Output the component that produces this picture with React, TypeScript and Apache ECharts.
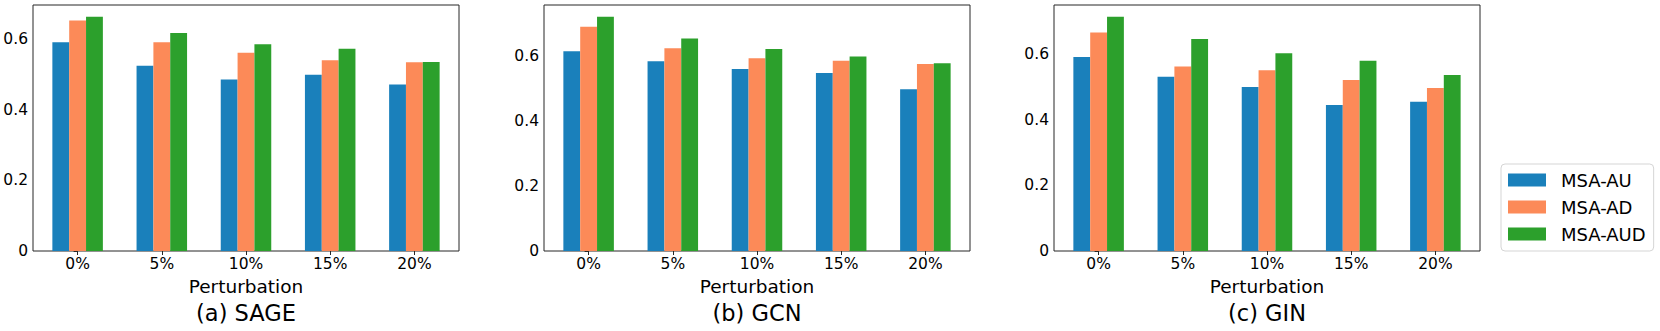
import React, { useEffect, useRef } from "react";
import * as echarts from "echarts";

const categories = ["0%", "5%", "10%", "15%", "20%"];
const seriesNames = ["MSA-AU", "MSA-AD", "MSA-AUD"];
const yTicks = [0, 0.2, 0.4, 0.6];
const panelTitles = ["(a) SAGE", "(b) GCN", "(c) GIN"];

const sageAU = [0.591, 0.524, 0.485, 0.499, 0.471];
const sageAD = [0.652, 0.591, 0.561, 0.54, 0.534];
const sageAUD = [0.663, 0.617, 0.585, 0.572, 0.535];

const gcnAU = [0.614, 0.583, 0.559, 0.547, 0.497];
const gcnAD = [0.689, 0.623, 0.592, 0.585, 0.575];
const gcnAUD = [0.72, 0.653, 0.621, 0.598, 0.577];

const ginAU = [0.591, 0.531, 0.5, 0.445, 0.455];
const ginAD = [0.666, 0.562, 0.551, 0.521, 0.497];
const ginAUD = [0.714, 0.646, 0.603, 0.58, 0.536];

const panels = [
  [sageAU, sageAD, sageAUD],
  [gcnAU, gcnAD, gcnAUD],
  [ginAU, ginAD, ginAUD],
];

const colors = ["#1a80bb", "#fc8a58", "#2ca02c"];
const FONT = "DejaVu Sans";
const gridLefts = [33, 544, 1054];
const GRID_W = 426;
const GRID_TOP = 5;
const GRID_H = 246;

export default function App() {
  const ref = useRef<HTMLDivElement>(null);

  useEffect(() => {
    document.body.style.margin = "0";
    if (!ref.current) return;
    const chart = echarts.init(ref.current, undefined, { renderer: "svg" });

    const grids = gridLefts.map((left) => ({
      left,
      top: GRID_TOP,
      width: GRID_W,
      height: GRID_H,
      show: true,
      borderColor: "#262626",
      borderWidth: 1,
      backgroundColor: "transparent",
    }));

    const catIdx = categories.map((_, i) => i);

    const xAxes = panels.map((_, p) => ({
      type: "value",
      gridIndex: p,
      min: -0.53,
      max: 4.53,
      axisLine: { show: false },
      splitLine: { show: false },
      axisTick: {
        show: true,
        length: 4,
        customValues: catIdx,
        lineStyle: { color: "#262626" },
      },
      axisLabel: {
        customValues: catIdx,
        formatter: (v: number) => categories[Math.round(v)],
        fontFamily: FONT,
        fontSize: 15.5,
        color: "#000",
        margin: 5,
      },
      name: "Perturbation",
      nameLocation: "middle",
      nameGap: 22,
      nameTextStyle: { fontFamily: FONT, fontSize: 18.5, color: "#000" },
    }));

    const yAxes = panels.map((data, p) => {
      const maxVal = Math.max(...data.flat());
      return {
        type: "value",
        gridIndex: p,
        min: 0,
        max: maxVal * 1.05,
        axisLine: { show: false },
        splitLine: { show: false },
        axisTick: {
          show: true,
          length: 4,
          customValues: yTicks,
          lineStyle: { color: "#262626" },
        },
        axisLabel: {
          customValues: yTicks,
          formatter: (v: number) => (v === 0 ? "0" : v.toFixed(1)),
          fontFamily: FONT,
          fontSize: 15.5,
          color: "#000",
          margin: 5,
        },
      };
    });

    const series: any[] = [];
    panels.forEach((data, p) => {
      data.forEach((vals, s) => {
        series.push({
          type: "bar",
          name: seriesNames[s],
          xAxisIndex: p,
          yAxisIndex: p,
          barWidth: "20%",
          barGap: "0%",
          itemStyle: { color: colors[s] },
          data: vals.map((v, i) => [catIdx[i], v]),
        });
      });
    });

    const graphic = panelTitles.map((t, p) => ({
      type: "text",
      x: gridLefts[p] + GRID_W / 2,
      y: 313,
      style: {
        text: t,
        fontFamily: FONT,
        fontSize: 22.5,
        fill: "#000",
        textAlign: "center",
        textVerticalAlign: "middle",
      },
    }));

    chart.setOption({
      animation: false,
      backgroundColor: "#fff",
      grid: grids,
      xAxis: xAxes,
      yAxis: yAxes,
      series,
      graphic,
      legend: {
        data: seriesNames,
        orient: "vertical",
        left: 1501,
        top: 164,
        itemWidth: 38,
        itemHeight: 13,
        itemGap: 9,
        icon: "rect",
        padding: [7, 8, 8, 7],
        backgroundColor: "#fff",
        borderColor: "#d5d5d5",
        borderWidth: 1,
        borderRadius: 4,
        textStyle: {
          fontFamily: FONT,
          fontSize: 18,
          color: "#000",
          padding: [0, 0, 0, 10],
        },
      },
    });

    return () => {
      chart.dispose();
    };
  }, []);

  return <div ref={ref} style={{ width: 1660, height: 331 }} />;
}
